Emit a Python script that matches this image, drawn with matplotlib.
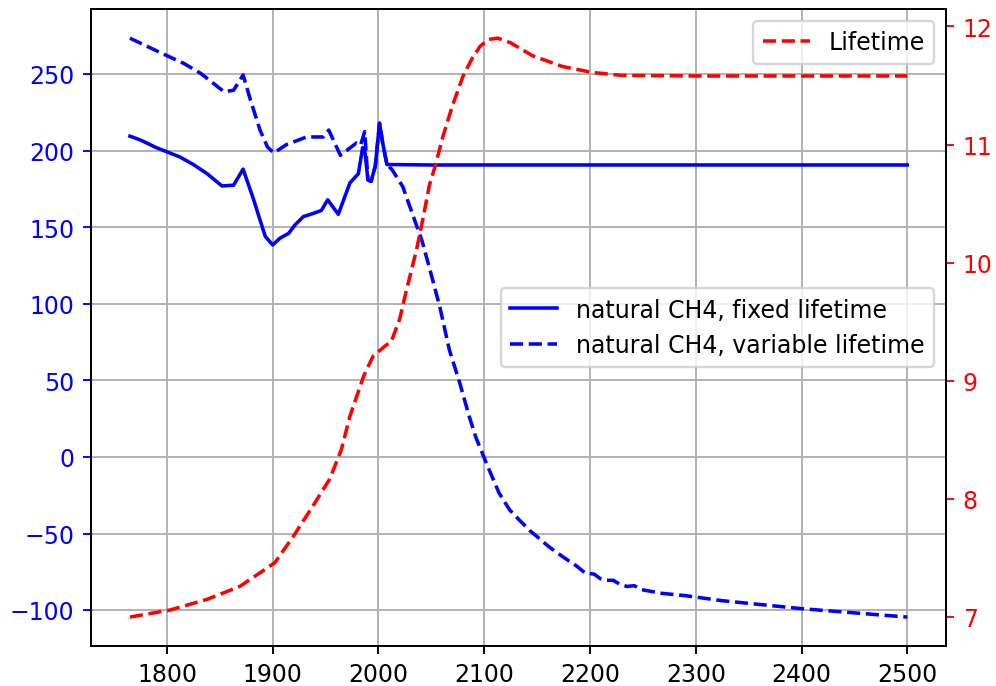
import matplotlib
matplotlib.use("Agg")
import matplotlib.pyplot as plt

# natural CH4, fixed lifetime (left axis)
years_fixed = [1765, 1775, 1790, 1812, 1825, 1838, 1852, 1863, 1872, 1882, 1887, 1893, 1900,
               1907, 1915, 1921, 1929, 1938, 1946, 1952, 1962, 1973, 1981, 1985, 1987,
               1990, 1993, 1997, 2001, 2004, 2008, 2050, 2200, 2500]
ch4_fixed = [209.5, 207, 202, 196, 191, 185, 177, 177.5, 188, 168, 157, 144, 138.5,
             143, 146, 151.5, 157, 159, 161, 168, 158.5, 179, 185, 202, 200.5,
             181, 180, 190, 218, 205, 191, 190.7, 190.7, 190.7]

# natural CH4, variable lifetime (left axis)
years_var = [1765, 1794, 1816, 1832, 1854, 1863, 1872, 1879, 1888, 1895, 1901, 1913,
             1932, 1948, 1953, 1964, 1979, 1983, 1987, 1990, 1993, 1997, 2001, 2004,
             2008, 2013, 2023, 2033, 2041, 2048, 2058, 2067, 2077, 2086, 2092, 2102,
             2114, 2124, 2133, 2143, 2150, 2161, 2174, 2187, 2195, 2204, 2210, 2216,
             2222, 2228, 2235, 2242, 2248, 2268, 2290, 2325, 2400, 2500]
ch4_var = [273.5, 264, 257, 250.5, 238.5, 239.5, 249.5, 233, 213.5, 202.5, 198.5, 204,
           209, 209, 213.5, 197, 205, 203.5, 212.5, 181, 180, 190, 218, 205,
           191, 187.5, 176.5, 157, 141.5, 124, 98, 70, 48, 26, 13, -4,
           -23.5, -34.5, -41, -48, -52, -58.5, -65, -71, -75.5, -76.5, -79.5, -80.5,
           -80.5, -83, -84.5, -84, -86.5, -89, -90.5, -93.8, -99, -104.5]

# methane lifetime (right axis)
years_life = [1765, 1803, 1838, 1869, 1902, 1920, 1938, 1954, 1965, 1973, 1986, 1995,
              2007, 2012, 2020, 2026, 2036, 2042, 2048, 2054, 2061, 2070, 2080, 2088,
              2096, 2104, 2113, 2125, 2146, 2174, 2202, 2230, 2300, 2500]
lifetime = [7.0, 7.06, 7.15, 7.26, 7.46, 7.69, 7.94, 8.17, 8.42, 8.70, 9.04, 9.21,
            9.30, 9.33, 9.52, 9.75, 10.11, 10.37, 10.65, 10.83, 11.07, 11.33, 11.58, 11.72,
            11.83, 11.89, 11.90, 11.86, 11.75, 11.66, 11.61, 11.585, 11.58, 11.58]

fig, ax1 = plt.subplots(figsize=(5.86, 4.04), dpi=170)
ax1.plot(years_fixed, ch4_fixed, color="blue", label="natural CH4, fixed lifetime")
ax1.plot(years_var, ch4_var, color="blue", linestyle="--", label="natural CH4, variable lifetime")
ax1.tick_params(axis="y", colors="blue")
ax1.grid(True)
ax1.legend(loc="center right")

ax2 = ax1.twinx()
ax2.plot(years_life, lifetime, color="red", linestyle="--", label="Lifetime")
ax2.tick_params(axis="y", colors="red")
ax2.legend(loc="upper right")

plt.subplots_adjust(left=0.0914, right=0.9498, top=0.9854, bottom=0.0582)
plt.savefig("out.png")
